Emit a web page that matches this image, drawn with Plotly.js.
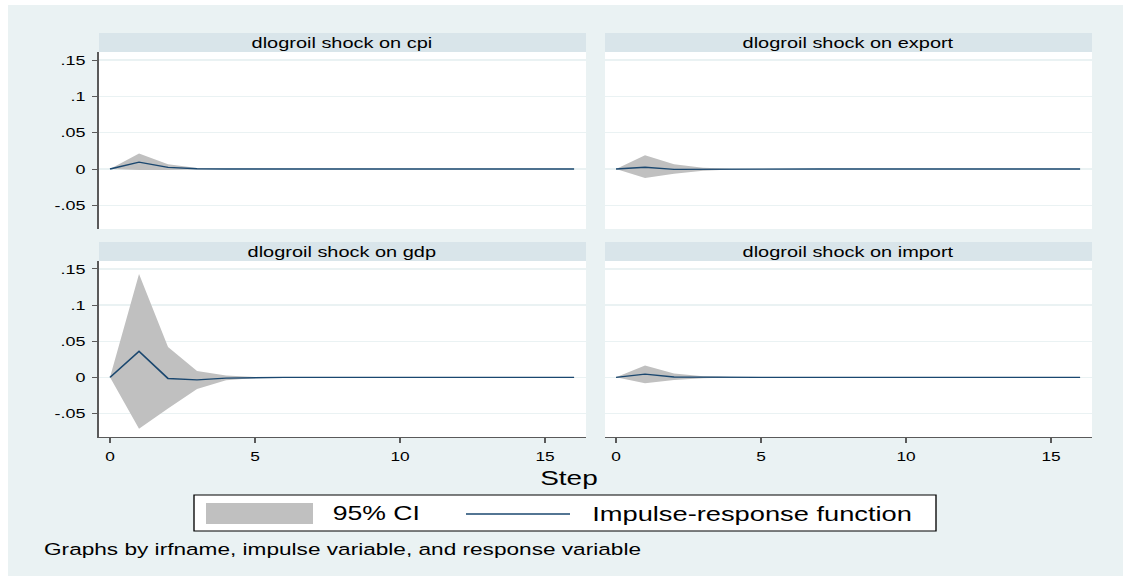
<!DOCTYPE html>
<html>
<head>
<meta charset="utf-8">
<script src="https://cdn.plot.ly/plotly-3.0.1.min.js"></script>
<style>
html,body{margin:0;padding:0;background:#fff;}
#wrap{width:1123px;height:576px;overflow:hidden;position:relative;}
#plot{width:844px;height:576px;transform:scaleX(1.33057);transform-origin:0 0;}
</style>
</head>
<body>
<div id="wrap"><div id="plot"></div></div>
<script>
// ---- data ----
const steps = [0,1,2,3,4,5,6,7,8,9,10,11,12,13,14,15,16];

const panelTitles = ["dlogroil shock on cpi","dlogroil shock on export","dlogroil shock on gdp","dlogroil shock on import"];

const cpiIrf   = [0, 0.0095, 0.0022, 0.0004, 0.0001, 0, 0, 0, 0, 0, 0, 0, 0, 0, 0, 0, 0];
const cpiLo    = [0, -0.0015, -0.0012, -0.0004, -0.0001, 0, 0, 0, 0, 0, 0, 0, 0, 0, 0, 0, 0];
const cpiHi    = [0, 0.0215, 0.0065, 0.0015, 0.0003, 0.0001, 0, 0, 0, 0, 0, 0, 0, 0, 0, 0, 0];

const exportIrf = [0, 0.0025, -0.0005, -0.0002, 0, 0, 0, 0, 0, 0, 0, 0, 0, 0, 0, 0, 0];
const exportLo  = [0, -0.0125, -0.0065, -0.0022, -0.0006, -0.0001, 0, 0, 0, 0, 0, 0, 0, 0, 0, 0, 0];
const exportHi  = [0, 0.019, 0.0065, 0.0018, 0.0005, 0.0001, 0, 0, 0, 0, 0, 0, 0, 0, 0, 0, 0];

const gdpIrf = [0, 0.036, -0.0015, -0.0035, -0.001, -0.0002, 0, 0, 0, 0, 0, 0, 0, 0, 0, 0, 0];
const gdpLo  = [0, -0.071, -0.043, -0.016, -0.004, -0.0008, -0.0001, 0, 0, 0, 0, 0, 0, 0, 0, 0, 0];
const gdpHi  = [0, 0.143, 0.042, 0.0088, 0.0025, 0.0005, 0.0001, 0, 0, 0, 0, 0, 0, 0, 0, 0, 0];

const importIrf = [0, 0.0045, 0.0006, 0.0001, 0, 0, 0, 0, 0, 0, 0, 0, 0, 0, 0, 0, 0];
const importLo  = [0, -0.0082, -0.0038, -0.0011, -0.0003, 0, 0, 0, 0, 0, 0, 0, 0, 0, 0, 0, 0];
const importHi  = [0, 0.0165, 0.0055, 0.0015, 0.0004, 0.0001, 0, 0, 0, 0, 0, 0, 0, 0, 0, 0, 0];

const yTickVals = [-0.05, 0, 0.05, 0.1, 0.15];
const yTickText = ["-.05", "0", ".05", ".1", ".15"];
const xTickVals = [0, 5, 10, 15];
const xTickText = ["0", "5", "10", "15"];

const legendLabels = ["95% CI", "Impulse-response function"];
const xTitle = "Step";
const noteText = "Graphs by irfname, impulse variable, and response variable";

// ---- style ----
const FONT = "Liberation Sans, Arial, Helvetica, sans-serif";
const CI_COLOR = "#c0c0c0";
const LINE_COLOR = "#1a476f";
const BG = "#eaf2f3";
const STRIP = "#d9e5ea";
const AXIS = "#5a5a5a";
const W = 1123, H = 576;
const px = x => x / W;
const py = y => 1 - y / H;

const panels = [
  {irf: cpiIrf, lo: cpiLo, hi: cpiHi, xa: "x", ya: "y"},
  {irf: exportIrf, lo: exportLo, hi: exportHi, xa: "x2", ya: "y2"},
  {irf: gdpIrf, lo: gdpLo, hi: gdpHi, xa: "x3", ya: "y3"},
  {irf: importIrf, lo: importLo, hi: importHi, xa: "x4", ya: "y4"}
];

const traces = [];
panels.forEach(p => {
  traces.push({x: steps, y: p.lo, xaxis: p.xa, yaxis: p.ya, type: "scatter", mode: "lines",
    line: {width: 0, color: CI_COLOR}, showlegend: false, hoverinfo: "skip"});
  traces.push({x: steps, y: p.hi, xaxis: p.xa, yaxis: p.ya, type: "scatter", mode: "lines",
    fill: "tonexty", fillcolor: CI_COLOR, line: {width: 0, color: CI_COLOR}, showlegend: false, hoverinfo: "skip"});
  traces.push({x: steps, y: p.irf, xaxis: p.xa, yaxis: p.ya, type: "scatter", mode: "lines",
    line: {width: 1.4, color: LINE_COLOR}, showlegend: false});
});

// panel geometry in reference pixels
const colX = [[99, 586], [605, 1092]];
const rowY = [[52, 229], [261, 437]];
const stripY = [[33, 52], [242, 261]];
const xRange = [-0.38, 16.41];
const yRange = [-0.0825, 0.161];

function xAxis(col, row, bottom) {
  const a = {
    domain: [px(colX[col][0]), px(colX[col][1])],
    range: xRange, fixedrange: true, zeroline: false, showgrid: false,
    anchor: ["y", "y2", "y3", "y4"][row * 2 + col]
  };
  if (bottom) {
    Object.assign(a, {showline: true, linecolor: AXIS, linewidth: 1.3, ticks: "outside", ticklen: 5,
      tickwidth: 1, tickcolor: AXIS, tickvals: xTickVals, ticktext: xTickText, ticklabelstandoff: 2,
      tickfont: {family: FONT, size: 13, color: "#000"}});
  } else {
    Object.assign(a, {showline: false, showticklabels: false, ticks: ""});
  }
  return a;
}
function yAxis(col, row) {
  const a = {
    domain: [py(rowY[row][1]), py(rowY[row][0])],
    range: yRange, fixedrange: true, zeroline: false,
    showgrid: true, gridcolor: BG, gridwidth: 1.2, tickvals: yTickVals, ticktext: yTickText,
    anchor: ["x", "x2", "x3", "x4"][row * 2 + col]
  };
  if (col === 0) {
    Object.assign(a, {showline: true, linecolor: AXIS, linewidth: 1.5, ticks: "outside", ticklen: 4,
      tickwidth: 1, tickcolor: AXIS, ticklabelstandoff: 2,
      tickfont: {family: FONT, size: 13.5, color: "#000"}});
  } else {
    Object.assign(a, {showline: false, showticklabels: false, ticks: ""});
  }
  return a;
}

const shapes = [
  {type: "rect", xref: "paper", yref: "paper", x0: 0, x1: px(8), y0: 0, y1: 1, fillcolor: "#ffffff", line: {width: 0}, layer: "below"},
  {type: "rect", xref: "paper", yref: "paper", x0: 0, x1: 1, y0: py(5), y1: 1, fillcolor: "#ffffff", line: {width: 0}, layer: "below"}
];
const annotations = [];
let k = 0;
for (let r = 0; r < 2; r++) {
  for (let c = 0; c < 2; c++) {
    shapes.push({type: "rect", xref: "paper", yref: "paper",
      x0: px(colX[c][0]), x1: px(colX[c][1]), y0: py(stripY[r][1]), y1: py(stripY[r][0]),
      fillcolor: STRIP, line: {width: 0}, layer: "below"});
    annotations.push({xref: "paper", yref: "paper", x: px((colX[c][0] + colX[c][1]) / 2),
      y: py((stripY[r][0] + stripY[r][1]) / 2), text: panelTitles[k], showarrow: false,
      xanchor: "center", yanchor: "middle", font: {family: FONT, size: 15, color: "#000"}});
    k++;
  }
}

// x-axis title
annotations.push({xref: "paper", yref: "paper", x: px(569), y: py(477), text: xTitle, showarrow: false,
  xanchor: "center", yanchor: "middle", font: {family: FONT, size: 21, color: "#000"}});

// legend box
shapes.push({type: "rect", xref: "paper", yref: "paper", x0: px(194), x1: px(936), y0: py(531), y1: py(495),
  fillcolor: "#ffffff", line: {color: "#000", width: 1}, layer: "above"});
shapes.push({type: "rect", xref: "paper", yref: "paper", x0: px(206), x1: px(313), y0: py(524), y1: py(503),
  fillcolor: CI_COLOR, line: {width: 0}, layer: "above"});
shapes.push({type: "line", xref: "paper", yref: "paper", x0: px(466), x1: px(570), y0: py(514), y1: py(514),
  line: {color: LINE_COLOR, width: 1.4}, layer: "above"});
annotations.push({xref: "paper", yref: "paper", x: px(330), y: py(513), text: legendLabels[0], showarrow: false,
  xanchor: "left", yanchor: "middle", font: {family: FONT, size: 20, color: "#000"}});
annotations.push({xref: "paper", yref: "paper", x: px(590), y: py(513), text: legendLabels[1], showarrow: false,
  xanchor: "left", yanchor: "middle", font: {family: FONT, size: 20.5, color: "#000"}});

// note
annotations.push({xref: "paper", yref: "paper", x: px(41), y: py(549), text: noteText, showarrow: false,
  xanchor: "left", yanchor: "middle", font: {family: FONT, size: 17, color: "#000"}});

const layout = {
  width: 844, height: 576,
  margin: {l: 0, r: 0, t: 0, b: 0, pad: 0},
  paper_bgcolor: BG, plot_bgcolor: "#ffffff",
  showlegend: false,
  font: {family: FONT, color: "#000"},
  xaxis: xAxis(0, 0, false), yaxis: yAxis(0, 0),
  xaxis2: xAxis(1, 0, false), yaxis2: yAxis(1, 0),
  xaxis3: xAxis(0, 1, true), yaxis3: yAxis(0, 1),
  xaxis4: xAxis(1, 1, true), yaxis4: yAxis(1, 1),
  shapes: shapes, annotations: annotations
};

Plotly.newPlot("plot", traces, layout, {displayModeBar: false, staticPlot: true});
</script>
</body>
</html>
